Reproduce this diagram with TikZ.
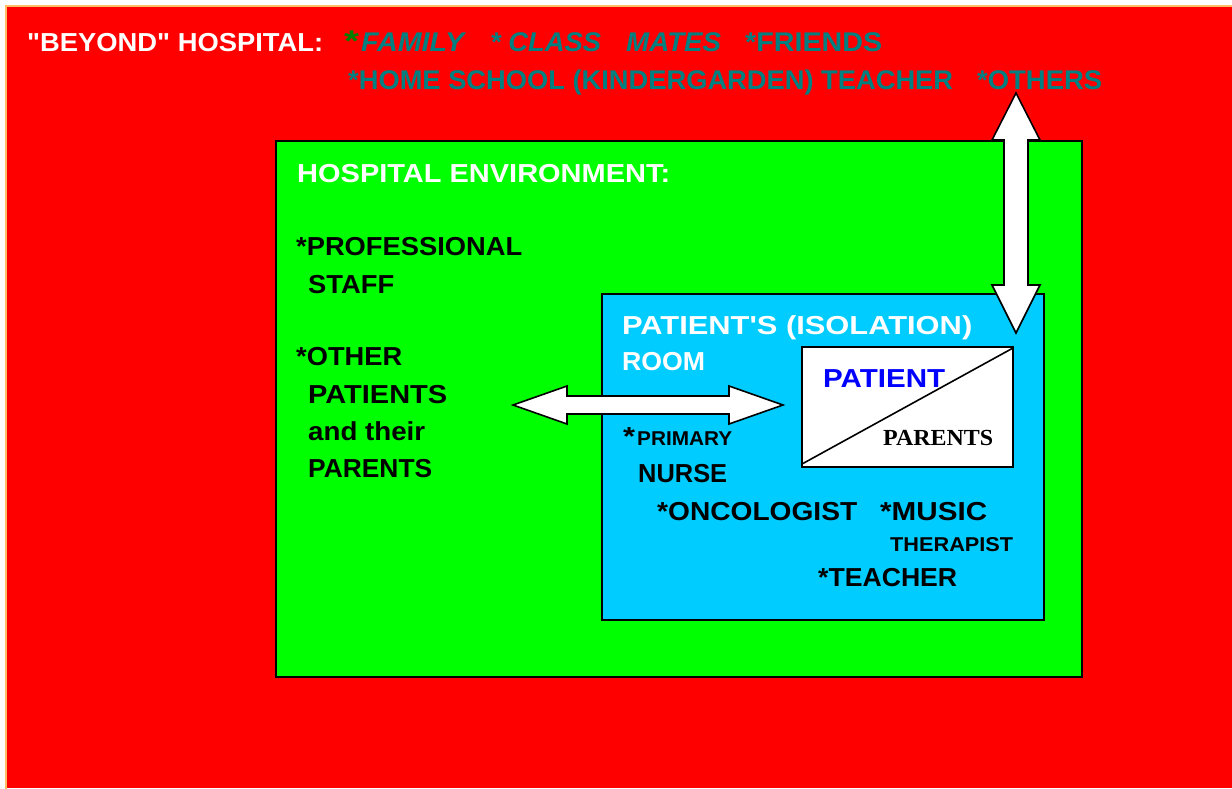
\documentclass[tikz,border=0pt]{standalone}
\usepackage{fontspec}
\setmainfont{Liberation Sans}
\newfontfamily\serifb{Liberation Serif}
\usepackage{graphicx}
\newcommand\fitw[2]{\resizebox{#1pt}{\height}{#2}}
\newcommand\myfs[1]{\fontsize{#1}{#1}\selectfont}
\definecolor{bgred}{RGB}{255,0,0}
\definecolor{edgeorange}{RGB}{255,190,100}
\definecolor{hgreen}{RGB}{0,255,0}
\definecolor{roomblue}{RGB}{0,204,255}
\definecolor{tealtxt}{RGB}{0,128,128}
\definecolor{stargreen}{RGB}{0,128,0}
\definecolor{patblue}{RGB}{0,0,255}
\begin{document}
\begin{tikzpicture}[x=1pt,y=-1pt,
  txt/.style={anchor=base west, inner sep=0pt, font=\bfseries\myfs{26}},
  small/.style={anchor=base west, inner sep=0pt, font=\bfseries\myfs{20}},
  box/.style={draw=black, line width=2pt},
  blockarrow/.style={draw=black, fill=white, line width=1.6pt, line join=miter}]
\useasboundingbox (0,0) rectangle (1232,788);
\fill[white] (0,0) rectangle (1232,788);
% outer "beyond hospital" area
\fill[bgred] (6,6) rectangle (1232,788);
\draw[edgeorange, line width=1.5pt] (6,790) -- (6,6) -- (1234,6);
% hospital environment
\draw[box, fill=hgreen] (276,141) rectangle (1082,677);
% isolation room
\draw[box, fill=roomblue] (602,294) rectangle (1044,620);
% horizontal double arrow
\coordinate (hl) at (513,405);
\coordinate (hr) at (783,405);
\draw[blockarrow] (hl) -- (567,386) -- (567,396) -- (729,396) -- (729,386) -- (hr)
  -- (729,424) -- (729,414) -- (567,414) -- (567,424) -- cycle;
% vertical double arrow
\coordinate (vt) at (1016,93);
\coordinate (vb) at (1016,333);
\draw[blockarrow] (vt) -- (1040,140) -- (1028,140) -- (1028,285) -- (1040,285) -- (vb)
  -- (992,285) -- (1004,285) -- (1004,140) -- (992,140) -- cycle;
% patient / parents box
\draw[box, fill=white] (802,347) rectangle (1013,467);
\coordinate (dg1) at (802,464);
\coordinate (dg2) at (1013,348);
\draw[line width=1.6pt] (dg1) -- (dg2);

% texts: beyond hospital
\node[txt, text=white] (beyond) at (27,51) {\fitw{296}{\textquotedbl BEYOND\textquotedbl{} HOSPITAL:}};
\node[txt, text=stargreen, font=\bfseries\myfs{30}] (gstar) at (344,51) {\fitw{15}{*}};
\node[txt, text=tealtxt, font=\bfseries\itshape\myfs{27}] (family) at (361,51) {\fitw{103}{FAMILY}};
\node[txt, text=tealtxt, font=\bfseries\itshape\myfs{27}] (classx) at (490,51) {\fitw{111}{* CLASS}};
\node[txt, text=tealtxt, font=\bfseries\itshape\myfs{27}] (mates) at (626,51) {\fitw{95}{MATES}};
\node[txt, text=tealtxt, font=\bfseries\myfs{27}] (friends) at (745,51) {\fitw{137}{*FRIENDS}};
\node[txt, text=tealtxt, font=\bfseries\myfs{27}] (homeschool) at (348,89) {\fitw{605}{*HOME SCHOOL (KINDERGARDEN) TEACHER}};
\node[txt, text=tealtxt, font=\bfseries\myfs{27}] (others) at (977,89) {\fitw{125}{*OTHERS}};

% hospital environment
\node[txt, text=white] (henv) at (297,182) {\fitw{373}{HOSPITAL ENVIRONMENT:}};
\node[txt] (prof) at (296,255) {\fitw{226}{*PROFESSIONAL}};
\node[txt] (staff) at (308,293) {\fitw{86}{STAFF}};
\node[txt] (other) at (296,365) {\fitw{106}{*OTHER}};
\node[txt] (patients) at (308,403) {\fitw{139}{PATIENTS}};
\node[txt] (andtheir) at (308,440) {\fitw{117}{and their}};
\node[txt] (parentsl) at (308,477) {\fitw{124}{PARENTS}};

% isolation room
\node[txt, text=white] (room1) at (622,334) {\fitw{350}{PATIENT\textquotesingle S (ISOLATION)}};
\node[txt, text=white] (room2) at (622,370) {\fitw{83}{ROOM}};
\node[txt] (pstar) at (623,445) {\fitw{12}{*}};
\node[small] (primary) at (637,445) {\fitw{95}{PRIMARY}};
\node[txt] (nurse) at (638,482) {\fitw{89}{NURSE}};
\node[txt] (onco) at (657,520) {\fitw{200}{*ONCOLOGIST}};
\node[txt] (music) at (880,520) {\fitw{107}{*MUSIC}};
\node[small] (therapist) at (890,551) {\fitw{123}{THERAPIST}};
\node[txt] (teacher) at (818,586) {\fitw{139}{*TEACHER}};

% patient / parents
\node[txt, text=patblue] (patient) at (823,387) {\fitw{122}{PATIENT}};
\node[anchor=base west, inner sep=0pt, font=\serifb\bfseries\myfs{23}] (parents) at (883,445) {\fitw{110}{PARENTS}};
\end{tikzpicture}
\end{document}
